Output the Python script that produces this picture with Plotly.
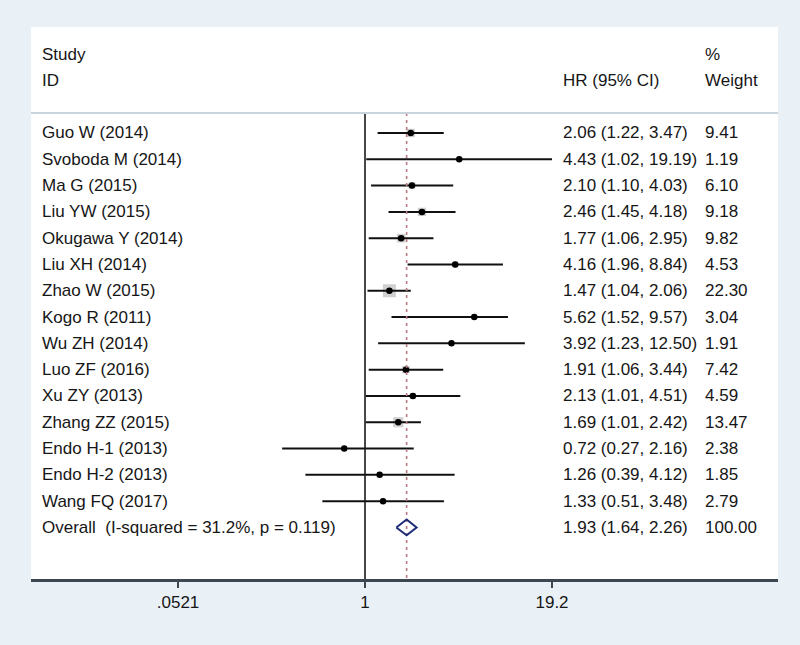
import plotly.graph_objects as go

studies = ["Guo W (2014)", "Svoboda M (2014)", "Ma G (2015)", "Liu YW (2015)",
           "Okugawa Y (2014)", "Liu XH (2014)", "Zhao W (2015)", "Kogo R (2011)",
           "Wu ZH (2014)", "Luo ZF (2016)", "Xu ZY (2013)", "Zhang ZZ (2015)",
           "Endo H-1 (2013)", "Endo H-2 (2013)", "Wang FQ (2017)"]
hr = [2.06, 4.43, 2.10, 2.46, 1.77, 4.16, 1.47, 5.62, 3.92, 1.91, 2.13, 1.69, 0.72, 1.26, 1.33]
lo = [1.22, 1.02, 1.10, 1.45, 1.06, 1.96, 1.04, 1.52, 1.23, 1.06, 1.01, 1.01, 0.27, 0.39, 0.51]
hi = [3.47, 19.19, 4.03, 4.18, 2.95, 8.84, 2.06, 9.57, 12.50, 3.44, 4.51, 2.42, 2.16, 4.12, 3.48]
weight = [9.41, 1.19, 6.10, 9.18, 9.82, 4.53, 22.30, 3.04, 1.91, 7.42, 4.59, 13.47, 2.38, 1.85, 2.79]

overall_label = "Overall\u00a0 (I-squared = 31.2%, p = 0.119)"
overall_hr, overall_lo, overall_hi, overall_w = 1.93, 1.64, 2.26, 100.00

tick_vals = [0.0521, 1, 19.2]
tick_text = [".0521", "1", "19.2"]

FONT = "Liberation Sans, Arial, sans-serif"
FS = 17
TXT = "#161616"

n = len(studies)
ys = [-i for i in range(n)]
y_over = -n
Y_TOP, Y_BOT = 4.03, -16.96
Y_HDR_LINE = 0.76

fig = go.Figure()

# weight squares
fig.add_trace(go.Scatter(
    x=hr, y=ys, mode="markers",
    marker=dict(symbol="square", color="#bcbcbc",
                size=[2.75 * w ** 0.5 for w in weight], line=dict(width=0)),
    hoverinfo="skip", showlegend=False))

# CI lines
for h, l, u, y in zip(hr, lo, hi, ys):
    fig.add_trace(go.Scatter(x=[l, u], y=[y, y], mode="lines",
                             line=dict(color="#111111", width=2),
                             hoverinfo="skip", showlegend=False))

# point estimates
fig.add_trace(go.Scatter(x=hr, y=ys, mode="markers",
                         marker=dict(symbol="circle", color="#000000", size=6.5),
                         hoverinfo="skip", showlegend=False))

# null line
fig.add_trace(go.Scatter(x=[1, 1], y=[Y_HDR_LINE, Y_BOT], mode="lines",
                         line=dict(color="#1a1a1a", width=1.6),
                         hoverinfo="skip", showlegend=False))
# overall dashed line
fig.add_trace(go.Scatter(x=[overall_hr, overall_hr], y=[Y_HDR_LINE, Y_BOT], mode="lines",
                         line=dict(color="#b87b84", width=1.6, dash="3px,4px"),
                         hoverinfo="skip", showlegend=False))

# overall diamond
dh = 0.3
fig.add_trace(go.Scatter(
    x=[overall_lo, overall_hr, overall_hi, overall_hr, overall_lo],
    y=[y_over, y_over + dh, y_over, y_over - dh, y_over],
    mode="lines", line=dict(color="#1f2d78", width=2),
    hoverinfo="skip", showlegend=False))

ann = []
def txt(x, y, s):
    ann.append(dict(x=x, y=y, xref="paper", yref="y", text=s, showarrow=False,
                    xanchor="left", yanchor="middle",
                    font=dict(family=FONT, size=FS, color=TXT)))

X_STUDY, X_HR, X_W = 0.012, 0.7095, 0.8996
txt(X_STUDY, 3, "Study")
txt(X_STUDY, 2, "ID")
txt(X_HR, 2, "HR (95% CI)")
txt(X_W, 3, "%")
txt(X_W, 2, "Weight")

for s, h, l, u, w, y in zip(studies, hr, lo, hi, weight, ys):
    txt(X_STUDY, y, s)
    txt(X_HR, y, f"{h:.2f} ({l:.2f}, {u:.2f})")
    txt(X_W, y, f"{w:.2f}")
txt(X_STUDY, y_over, overall_label)
txt(X_HR, y_over, f"{overall_hr:.2f} ({overall_lo:.2f}, {overall_hi:.2f})")
txt(X_W, y_over, f"{overall_w:.2f}")

shapes = [dict(type="line", xref="paper", yref="y", x0=0, x1=1,
               y0=Y_HDR_LINE, y1=Y_HDR_LINE, line=dict(color="#c9d3dc", width=2))]

fig.update_layout(
    width=800, height=645,
    margin=dict(l=31, r=22, t=27, b=66),
    paper_bgcolor="#e9f0f6", plot_bgcolor="#ffffff",
    annotations=ann, shapes=shapes,
    xaxis=dict(type="log", range=[-2.292, 2.834], showgrid=False, zeroline=False,
               tickvals=tick_vals, ticktext=tick_text, ticks="outside", ticklen=6,
               tickwidth=1.5, tickcolor="#3c4752", showline=True, linecolor="#3c4752",
               linewidth=2.5, tickfont=dict(family=FONT, size=FS, color=TXT)),
    yaxis=dict(range=[Y_BOT, Y_TOP], showgrid=False, zeroline=False,
               showticklabels=False, showline=False, ticks=""),
    showlegend=False,
)

fig.write_html("out.html", config={"displayModeBar": False},
               post_script="document.body.style.margin='0';document.body.style.background='#e9f0f6';")
